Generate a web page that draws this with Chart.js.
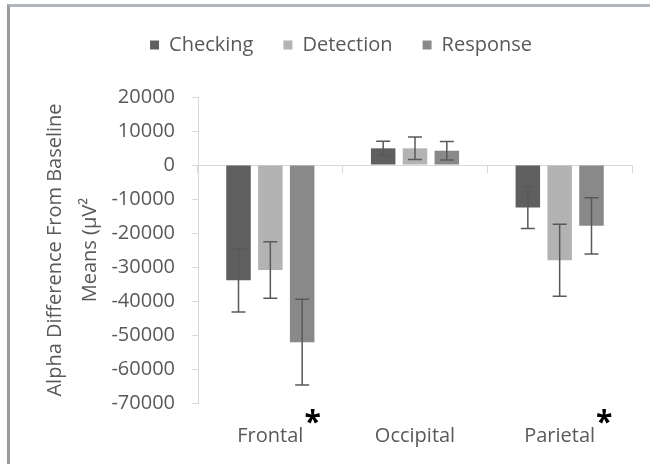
<!DOCTYPE html>
<html lang="en">
<head>
    <meta charset="UTF-8">
    <title>Alpha Difference From Baseline</title>
    <script src="https://cdn.jsdelivr.net/npm/chart.js"></script>
    <style>
        html, body {
            margin: 0;
            padding: 0;
            background: #fff;
            overflow: hidden;
        }
        #wrap {
            position: relative;
            width: 650px;
            height: 464px;
        }
        #frame {
            position: absolute;
            left: 7px;
            top: 4px;
            width: 660px;
            height: 480px;
            border-top: 3px solid #b0b5bf;
            border-left: 3px solid #9a9a9a;
            pointer-events: none;
        }
    </style>
</head>
<body>
<div id="wrap">
    <div id="frame"></div>
    <canvas id="alphaChart"></canvas>
</div>
<script>
    // regions and conditions
    const regions = ['Frontal', 'Occipital', 'Parietal'];
    const significant = [true, false, true];

    // mean alpha difference per region
    const checking = [-33900, 4900, -12500];
    const detection = [-30900, 4900, -28000];
    const response = [-52100, 4200, -17900];

    // error bar half lengths
    const checkingErr = [9300, 2100, 6200];
    const detectionErr = [8300, 3300, 10600];
    const responseErr = [12600, 2700, 8300];

    // y axis range
    const yMin = -70000;
    const yMax = 20000;
    const yStep = 10000;

    const textGrey = '#595959';
    const axisGrey = '#d9d9d9';
    const font = '"Open Sans", sans-serif';

    const errors = [checkingErr, detectionErr, responseErr];

    // whiskers on every bar
    const errorBars = {
        id: 'errorBars',
        afterDatasetsDraw(chart) {
            const ctx = chart.ctx;
            const y = chart.scales.y;
            ctx.save();
            ctx.strokeStyle = '#595959';
            ctx.lineWidth = 1.5;
            chart.data.datasets.forEach((ds, d) => {
                const meta = chart.getDatasetMeta(d);
                meta.data.forEach((bar, i) => {
                    const v = ds.data[i];
                    const e = errors[d][i];
                    const top = y.getPixelForValue(v + e);
                    const bot = y.getPixelForValue(v - e);
                    ctx.beginPath();
                    ctx.moveTo(bar.x, top);
                    ctx.lineTo(bar.x, bot);
                    ctx.moveTo(bar.x - 7, top);
                    ctx.lineTo(bar.x + 7, top);
                    ctx.moveTo(bar.x - 7, bot);
                    ctx.lineTo(bar.x + 7, bot);
                    ctx.stroke();
                });
            });
            ctx.restore();
        }
    };

    // asterisk next to regions with a significant effect
    const starMarks = {
        id: 'starMarks',
        afterDraw(chart) {
            const ctx = chart.ctx;
            const x = chart.scales.x;
            ctx.save();
            ctx.font = '20px ' + font;
            const widths = regions.map(r => ctx.measureText(r).width);
            ctx.font = 'bold 30px ' + font;
            ctx.fillStyle = '#000';
            ctx.textAlign = 'left';
            ctx.textBaseline = 'alphabetic';
            regions.forEach((r, i) => {
                if (!significant[i]) return;
                ctx.fillText('*', x.getPixelForValue(i) + widths[i] / 2 + 1, x.top + 29);
            });
            ctx.restore();
        }
    };

    // extra room under the legend, legend centred over the plot
    const legendSpace = {
        id: 'legendSpace',
        afterInit(chart) {
            const fit = chart.legend.fit;
            chart.legend.fit = function () {
                fit.call(this);
                this.height += 32;
            };
        },
        afterLayout(chart) {
            chart.legend.left += 20;
            chart.legend.right += 20;
        }
    };

    const ctx = document.getElementById('alphaChart').getContext('2d');
    const alphaChart = new Chart(ctx, {
        type: 'bar',
        data: {
            labels: regions,
            datasets: [
                { label: 'Checking', data: checking, backgroundColor: '#5f5f5f' },
                { label: 'Detection', data: detection, backgroundColor: '#b3b3b3' },
                { label: 'Response', data: response, backgroundColor: '#898989' }
            ]
        },
        options: {
            responsive: true,
            maintainAspectRatio: false,
            animation: false,
            categoryPercentage: 0.66,
            barPercentage: 0.77,
            layout: {
                padding: { left: 10, right: 18, top: 5, bottom: 0 }
            },
            plugins: {
                legend: {
                    position: 'top',
                    labels: {
                        boxWidth: 9,
                        boxHeight: 9,
                        padding: 30,
                        color: textGrey,
                        font: { family: font, size: 20 }
                    }
                },
                tooltip: { enabled: false }
            },
            scales: {
                x: {
                    position: 'bottom',
                    offset: true,
                    grid: { display: false, drawTicks: false },
                    border: { display: false },
                    ticks: {
                        padding: 21,
                        color: textGrey,
                        font: { family: font, size: 20 }
                    },
                    afterFit(scale) { scale.height = 61; }
                },
                xZero: {
                    type: 'category',
                    axis: 'x',
                    position: { y: 0 },
                    offset: true,
                    grid: {
                        offset: true,
                        drawOnChartArea: false,
                        tickLength: 7,
                        color: axisGrey
                    },
                    border: { color: axisGrey, width: 1 },
                    ticks: { display: false }
                },
                y: {
                    min: yMin,
                    max: yMax,
                    ticks: {
                        stepSize: yStep,
                        padding: 17,
                        color: textGrey,
                        font: { family: font, size: 20 },
                        callback: v => String(v)
                    },
                    grid: {
                        drawOnChartArea: false,
                        tickLength: 6,
                        color: axisGrey
                    },
                    border: { color: axisGrey },
                    title: {
                        display: true,
                        text: ['Alpha Difference From Baseline', 'Means (µV²'],
                        color: textGrey,
                        padding: { top: 28, bottom: 0 },
                        font: { family: font, size: 20, lineHeight: 1.75 }
                    },
                    afterFit(scale) { scale.width = 188; }
                }
            }
        },
        plugins: [errorBars, starMarks, legendSpace]
    });
</script>
</body>
</html>
